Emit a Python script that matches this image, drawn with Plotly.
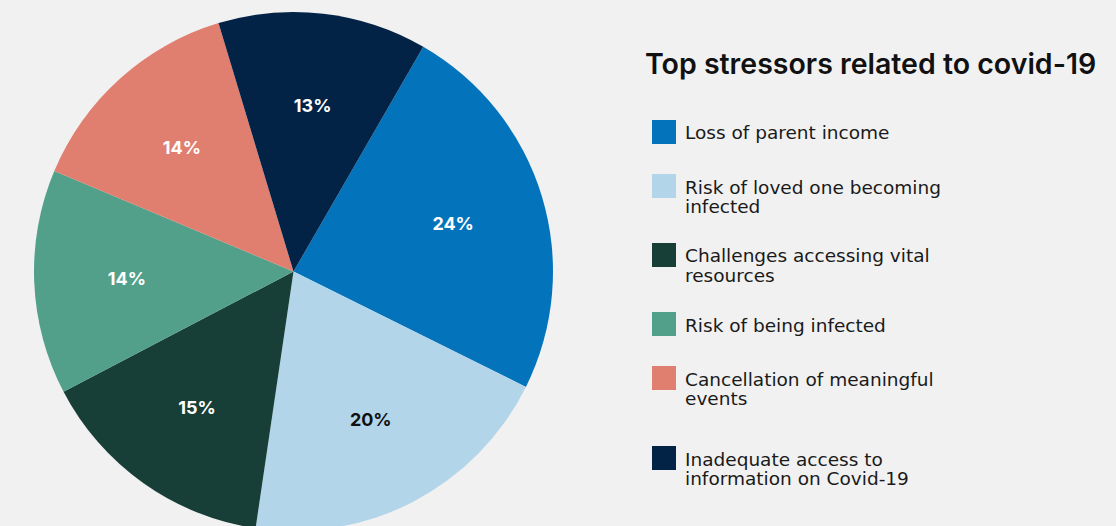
import plotly.graph_objects as go

# Top stressors related to covid-19 (share of respondents, %)
labels = [
    "Loss of parent income",
    "Risk of loved one becoming infected",
    "Challenges accessing vital resources",
    "Risk of being infected",
    "Cancellation of meaningful events",
    "Inadequate access to information on Covid-19",
]
values = [24, 20, 15, 14, 14, 13]
colors = ["#0373bc", "#b2d5ea", "#183f37", "#53a08a", "#e07f6f", "#022346"]
text_colors = ["#ffffff", "#111111", "#ffffff", "#ffffff", "#ffffff", "#ffffff"]

# Wrapped legend lines for each category
legend_lines = [
    ["Loss of parent income"],
    ["Risk of loved one becoming", "infected"],
    ["Challenges accessing vital", "resources"],
    ["Risk of being infected"],
    ["Cancellation of meaningful", "events"],
    ["Inadequate access to", "information on Covid-19"],
]
title_text = "Top stressors related to covid-19"

W, H = 1116, 531
BG = "#f1f1f1"
FONT = "Inter"
LEGEND_FONT = "DejaVu Sans"

# Pie centre and radius in pixels
CX, CY, R = 293.5, 271.5, 259.5
R_TEXT = 230  # radius of the (invisible) ring that carries the percentage labels


def px_x(x):
    return x / W


def px_y(y):
    return 1 - y / H


def domain_for(radius):
    return dict(x=[px_x(CX - radius), px_x(CX + radius)],
                y=[px_y(CY + radius), px_y(CY - radius)])


common = dict(labels=labels, values=values, sort=False, direction="clockwise",
              rotation=30, showlegend=False)

fig = go.Figure()
# Filled slices
fig.add_trace(go.Pie(
    **common,
    domain=dict(x=[px_x(CX - R), px_x(CX + R)], y=[0, px_y(CY - R)]),
    marker=dict(colors=colors, line=dict(width=0)),
    textinfo="none",
    hoverinfo="label+percent",
))
# Percentage labels on a transparent ring, so every label sits at the same distance
fig.add_trace(go.Pie(
    **common,
    domain=domain_for(R_TEXT),
    hole=0.45,
    marker=dict(colors=["rgba(0,0,0,0)"] * len(values), line=dict(width=0)),
    texttemplate="%{value}%",
    textposition="inside",
    insidetextorientation="horizontal",
    textfont=dict(family=FONT, size=18, color=text_colors, weight=700),
    hoverinfo="skip",
))

shapes = []
annotations = []

# Legend title
annotations.append(dict(
    x=px_x(643), y=px_y(63), xref="paper", yref="paper",
    xanchor="left", yanchor="middle", showarrow=False,
    text=title_text,
    font=dict(family=FONT, size=28.5, color="#111111", weight=600),
))

# Legend swatches and wrapped labels
swatch_centers = [132, 186, 255, 324, 378, 458]
line_gap = 19.5
for color, lines, cy in zip(colors, legend_lines, swatch_centers):
    shapes.append(dict(
        type="rect", xref="paper", yref="paper",
        x0=px_x(652), x1=px_x(676), y0=px_y(cy - 12), y1=px_y(cy + 12),
        fillcolor=color, line=dict(width=0),
    ))
    for i, line in enumerate(lines):
        annotations.append(dict(
            x=px_x(683), y=px_y(cy + 1 + i * line_gap), xref="paper", yref="paper",
            xanchor="left", yanchor="middle", showarrow=False,
            text=line,
            font=dict(family=LEGEND_FONT, size=18.5, color="#1a1a1a"),
        ))

fig.update_layout(
    width=W, height=H, autosize=False,
    margin=dict(l=0, r=0, t=0, b=0),
    paper_bgcolor=BG, plot_bgcolor=BG,
    shapes=shapes, annotations=annotations,
)

fig.write_html(
    "out.html",
    config={"displayModeBar": False},
    post_script="document.body.style.margin='0';document.body.style.overflow='hidden';document.body.style.background='%s';" % BG,
)
